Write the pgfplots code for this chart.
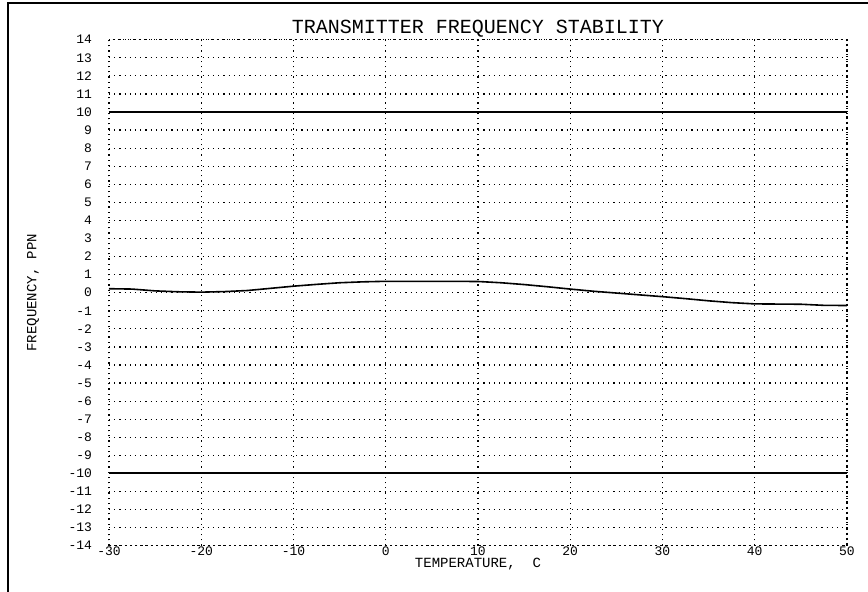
\documentclass[border=0pt]{standalone}
\usepackage{pgfplots}
\pgfplotsset{compat=1.18}
\usepackage{fontspec}
\setmainfont{Liberation Mono}
\begin{document}
\begin{tikzpicture}
\useasboundingbox (0,0) rectangle (434pt,296pt);
\draw[line width=1pt] (4pt,-2pt) -- (4pt,294.5pt) -- (436pt,294.5pt);
\begin{axis}[
  at={(54.5pt,23.15pt)}, anchor=south west,
  scale only axis, width=369pt, height=253pt,
  xmin=-30, xmax=50, ymin=-14, ymax=14,
  xtick={-30,-20,...,50},
  xticklabels={-30,-20,-10,0,10,20,30,40,50},
  ytick={-14,-13,...,14},
  yticklabels={-14,-13,-12,-11,-10,-9,-8,-7,-6,-5,-4,-3,-2,-1,0,1,2,3,4,5,6,7,8,9,10,11,12,13,14},
  major tick length=0pt,
  grid=major,
  major grid style={black, line width=0.6pt, dotted},
  axis line style={black, line width=0.6pt, dotted},
  tick label style={font=\fontsize{6.5}{7}\selectfont},
  xticklabel style={anchor=base, yshift=-5pt},
  yticklabel style={anchor=east, xshift=-5pt},
  title={TRANSMITTER FREQUENCY STABILITY},
  title style={font=\fontsize{10}{11}\selectfont, at={(rel axis cs:0.5,1)}, anchor=base, yshift=-3pt, inner sep=0pt},
  xlabel={TEMPERATURE,\ \ C},
  xlabel style={font=\fontsize{7}{8}\selectfont, at={(rel axis cs:0.5,0)}, anchor=base, yshift=-11pt, inner sep=0pt},
  ylabel={FREQUENCY, PPN},
  ylabel style={font=\fontsize{7}{8}\selectfont, at={(axis description cs:-0.103,0.5)}, anchor=center},
  clip=false,
]
\addplot[black, line width=1pt, forget plot] coordinates {(-30,10) (50,10)};
\addplot[black, line width=1pt, forget plot] coordinates {(-30,-10) (50,-10)};
\addplot[black, line width=0.8pt, sharp plot] coordinates {
(-30,0.22) (-27.5,0.2) (-25,0.1) (-22.5,0.05) (-20,0.03) (-17.5,0.06) (-15,0.12) (-12.5,0.24) (-10,0.36)
(-7.5,0.46) (-5,0.55) (-2.5,0.6) (0,0.63) (5,0.63) (10,0.62) (12.5,0.55) (15,0.45) (17.5,0.33) (20,0.2)
(22.5,0.08) (25,-0.02) (27.5,-0.12) (30,-0.22) (32.5,-0.33) (35,-0.45) (37.5,-0.55) (40,-0.62) (45,-0.64) (47.5,-0.70) (50,-0.71)
};
\end{axis}
\end{tikzpicture}
\end{document}
